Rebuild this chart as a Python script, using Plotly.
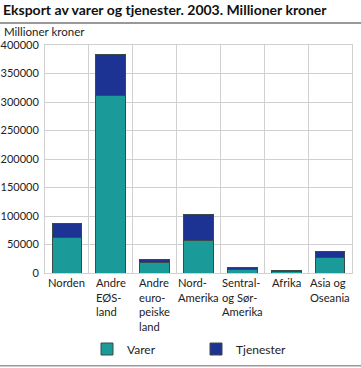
import plotly.graph_objects as go

categories = ["Norden", "Andre<br>EØS-<br>land", "Andre<br>euro-<br>peiske<br>land",
              "Nord-<br>Amerika", "Sentral-<br>og Sør-<br>Amerika", "Afrika", "Asia og<br>Oseania"]
varer = [62400, 311000, 18600, 57800, 5300, 3500, 28000]
tjenester = [24000, 71500, 5900, 44200, 3500, 500, 9300]
y_ticks = [0, 50000, 100000, 150000, 200000, 250000, 300000, 350000, 400000]

W, H = 361, 368
L, R, T, B = 45, 9, 45, 95
pw, ph = W - L - R, H - T - B

FONT = "Lato"
TEAL = "#1a9a98"
NAVY = "#1d3393"


def py(pix):
    """paper y for a pixel row measured from the top of the figure"""
    return 1 - (pix - T) / ph


xs = list(range(len(categories)))

fig = go.Figure()
fig.add_trace(go.Bar(x=xs, y=varer, name="Varer", marker=dict(color=TEAL, line=dict(color="#3a4a4a", width=1))))
fig.add_trace(go.Bar(x=xs, y=tjenester, name="Tjenester", marker=dict(color=NAVY, line=dict(color="#3a4a4a", width=1))))

annotations = []
for i, c in enumerate(categories):
    annotations.append(dict(x=i, y=0, xref="x", yref="y", text=c, showarrow=False,
                            xanchor="center", yanchor="top", align="left", yshift=-1,
                            font=dict(family=FONT, size=11.2, color="#222")))
annotations.append(dict(x=-L / pw + 2 / pw, y=py(31), xref="paper", yref="paper",
                        text="Millioner kroner", showarrow=False, xanchor="left", yanchor="middle",
                        font=dict(family=FONT, size=11.5, color="#222")))
# top rule as a thin filled annotation box spanning the full width
annotations.append(dict(x=-L / pw, y=py(21.5), xref="paper", yref="paper", text=" ",
                        showarrow=False, xanchor="left", yanchor="top", width=W, height=1.5,
                        bgcolor="#999999", borderpad=0, borderwidth=0,
                        font=dict(size=1, color="#999999")))

shapes = [
    dict(type="rect", xref="paper", yref="paper", x0=-L / pw, x1=1 + R / pw,
         y0=py(366.5), y1=py(365), layer="above", fillcolor="#999999", line=dict(width=0)),
]

fig.update_layout(
    width=W, height=H,
    margin=dict(l=L, r=R, t=T, b=B, autoexpand=False),
    paper_bgcolor="white", plot_bgcolor="white",
    barmode="stack", bargap=0.32,
    font=dict(family=FONT, size=12, color="#222"),
    title=dict(text="<b>Eksport av varer og tjenester. 2003. Millioner kroner</b>",
               x=3 / W, xanchor="left", xref="container", y=1 - 10 / H, yanchor="middle",
               yref="container", font=dict(family=FONT, size=14, color="#111")),
    showlegend=True,
    legend=dict(orientation="h", x=(100 - 13 - L) / pw, xanchor="left", y=py(349), yanchor="middle",
                font=dict(family=FONT, size=12, color="#222"), itemwidth=30,
                entrywidth=64, traceorder="normal", bgcolor="rgba(0,0,0,0)"),
    annotations=annotations,
    shapes=shapes,
)
fig.update_xaxes(range=[-0.5, len(categories) - 0.5], showticklabels=False, showgrid=False,
                 showline=True, mirror=True, linecolor="#d0d0d0", linewidth=1, zeroline=False,
                 automargin=False,
                 minor=dict(tick0=0.5, dtick=1, showgrid=True, gridcolor="#d0d0d0", gridwidth=1))
fig.update_yaxes(range=[0, 400000], tickvals=y_ticks, tickformat="d", showgrid=True,
                 gridcolor="#d0d0d0", gridwidth=1, showline=True, mirror=True,
                 linecolor="#d0d0d0", linewidth=1, zeroline=False, ticks="", automargin=False,
                 tickfont=dict(family=FONT, size=11, color="#222"), ticklabelstandoff=3)

fig.write_html("out.html", config={"displayModeBar": False},
               post_script="document.body.style.margin='0';document.body.style.overflow='hidden';")
